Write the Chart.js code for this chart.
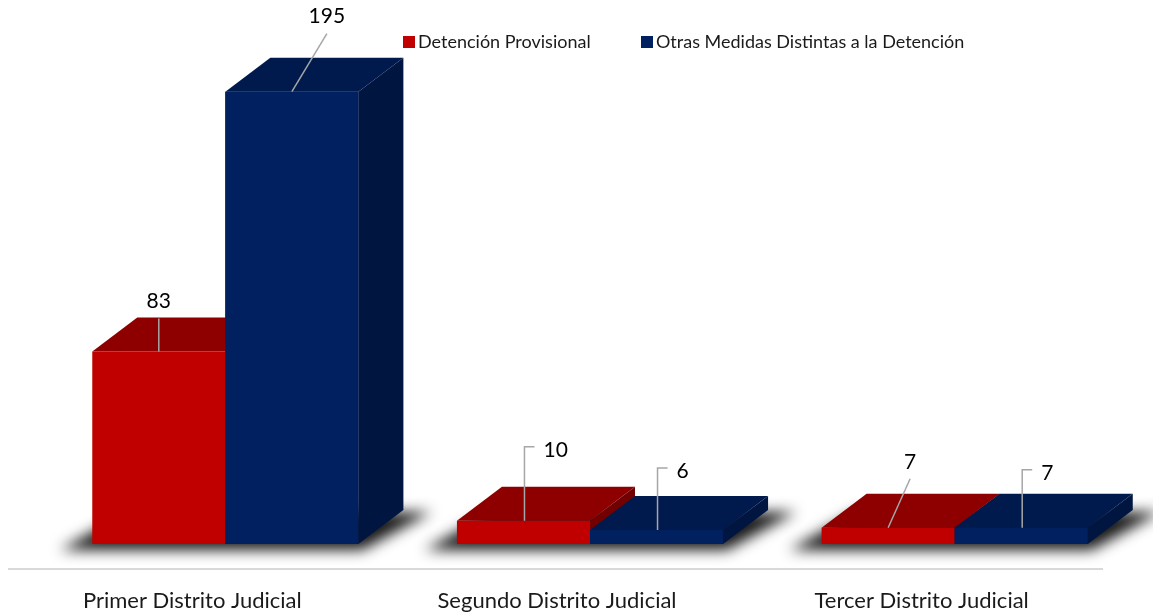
<!DOCTYPE html>
<html>
<head>
<meta charset="utf-8">
<script src="https://cdn.jsdelivr.net/npm/chart.js@4"></script>
<style>
  html, body { margin: 0; padding: 0; background: #ffffff; }
  #wrap { width: 1153px; height: 615px; position: relative; }
</style>
</head>
<body>
<div id="wrap"><canvas id="c" width="1153" height="615"></canvas></div>
<script>
// ---- data ----
const categories = ['Primer Distrito Judicial', 'Segundo Distrito Judicial', 'Tercer Distrito Judicial'];
const seriesNames = ['Detención Provisional', 'Otras Medidas Distintas a la Detención'];
const detencionProvisional = [83, 10, 7];
const otrasMedidas = [195, 6, 7];

// ---- styles ----
const FONT = 'Lato, "Open Sans", sans-serif';
const faceColors = [
  { front: '#C00000', top: '#8E0000', side: '#720000' },
  { front: '#002060', top: '#001A4E', side: '#001641' }
];
const DEPTH_X = 45, DEPTH_Y = 34;
// label placement: [dx, dy, kind] relative to bar front-top centre
const labelPlacement = [
  [[0, -50, 'line'], [0, -71, 'elbow'], [22, -66, 'line']],
  [[35, -75, 'line'], [0, -59, 'elbow'], [0, -55, 'elbow']]
];

function drawFaces(ctx, el, col) {
  const l = el.x - el.width / 2, r = el.x + el.width / 2, t = el.y, b = el.base;
  ctx.fillStyle = col.top;
  ctx.beginPath();
  ctx.moveTo(l, t); ctx.lineTo(r, t); ctx.lineTo(r + DEPTH_X, t - DEPTH_Y); ctx.lineTo(l + DEPTH_X, t - DEPTH_Y);
  ctx.closePath(); ctx.fill();
  ctx.fillStyle = col.side;
  ctx.beginPath();
  ctx.moveTo(r, t); ctx.lineTo(r + DEPTH_X, t - DEPTH_Y); ctx.lineTo(r + DEPTH_X, b - DEPTH_Y); ctx.lineTo(r, b);
  ctx.closePath(); ctx.fill();
}

const bars3d = {
  id: 'bars3d',
  beforeDatasetsDraw(chart) {
    const ctx = chart.ctx;
    const m0 = chart.getDatasetMeta(0).data, m1 = chart.getDatasetMeta(1).data;
    const ca = chart.chartArea;
    // floor line
    ctx.save();
    ctx.strokeStyle = '#D9D9D9';
    ctx.lineWidth = 2;
    ctx.beginPath();
    const fy = m0[0].base + 25;
    ctx.moveTo(ca.left - 35, fy); ctx.lineTo(ca.right - 34, fy);
    ctx.stroke();
    ctx.restore();
    // soft shadows (shape drawn off-canvas, only its shadow lands on the chart)
    ctx.save();
    const OFF = 5000;
    ctx.shadowColor = 'rgba(0,0,0,0.9)';
    ctx.shadowBlur = 14;
    ctx.shadowOffsetX = OFF;
    ctx.shadowOffsetY = 0;
    ctx.fillStyle = '#000';
    for (let i = 0; i < m0.length; i++) {
      const l = m0[i].x - m0[i].width / 2 - OFF, r = m1[i].x + m1[i].width / 2 - OFF, b = m0[i].base;
      ctx.beginPath();
      ctx.moveTo(l - 32, b + 6);
      ctx.lineTo(r + 4, b + 6);
      ctx.lineTo(r + DEPTH_X + 28, b - DEPTH_Y + 2);
      ctx.lineTo(l + DEPTH_X - 10, b - DEPTH_Y + 2);
      ctx.closePath();
      ctx.fill();
    }
    ctx.restore();
  },
  afterDatasetsDraw(chart) {
    const ctx = chart.ctx;
    const m0 = chart.getDatasetMeta(0).data, m1 = chart.getDatasetMeta(1).data;
    // 3D faces, painted back-to-front; the right bar's front is repainted by its element
    ctx.save();
    for (let i = 0; i < m0.length; i++) {
      drawFaces(ctx, m0[i], faceColors[0]);
      m1[i].draw(ctx);
      drawFaces(ctx, m1[i], faceColors[1]);
    }
    ctx.restore();

    ctx.save();
    ctx.strokeStyle = '#A6A6A6';
    ctx.lineWidth = 1.5;
    ctx.fillStyle = '#000000';
    ctx.font = '21px ' + FONT;
    ctx.textBaseline = 'middle';
    chart.data.datasets.forEach((ds, di) => {
      chart.getDatasetMeta(di).data.forEach((el, i) => {
        const [dx, dy, kind] = labelPlacement[di][i];
        const ax = el.x, ay = el.y;
        const text = String(ds.data[i]);
        if (kind === 'line') {
          const lx = ax + dx, ly = ay + dy;
          ctx.beginPath();
          ctx.moveTo(ax, ay); ctx.lineTo(lx, ly + 17);
          ctx.stroke();
          ctx.textAlign = 'center';
          ctx.fillText(text, lx, ly);
        } else {
          const ly = ay + dy;
          ctx.beginPath();
          ctx.moveTo(ax + 1, ay); ctx.lineTo(ax + 1, ly - 3); ctx.lineTo(ax + 11, ly - 3);
          ctx.stroke();
          ctx.textAlign = 'left';
          ctx.fillText(text, ax + 20, ly);
        }
      });
    });
    // legend
    ctx.font = '18px ' + FONT;
    ctx.textAlign = 'left';
    ctx.textBaseline = 'middle';
    const legendStarts = [403, 641];
    seriesNames.forEach((name, k) => {
      const x = legendStarts[k];
      ctx.fillStyle = faceColors[k].front;
      ctx.fillRect(x, 36, 12, 12);
      ctx.fillStyle = '#1A1A1A';
      ctx.fillText(name, x + 15, 42);
    });
    ctx.restore();
  }
};

new Chart(document.getElementById('c'), {
  type: 'bar',
  data: {
    labels: categories,
    datasets: [
      { label: seriesNames[0], data: detencionProvisional, backgroundColor: faceColors[0].front, borderWidth: 0 },
      { label: seriesNames[1], data: otrasMedidas, backgroundColor: faceColors[1].front, borderWidth: 0 }
    ]
  },
  options: {
    responsive: false,
    devicePixelRatio: 1,
    animation: false,
    layout: { padding: { left: 43, right: 16, top: 0, bottom: 0 } },
    plugins: { legend: { display: false }, tooltip: { enabled: false } },
    datasets: { bar: { categoryPercentage: 0.7298, barPercentage: 1 } },
    scales: {
      x: {
        grid: { display: false },
        border: { display: false },
        afterFit: (scale) => { scale.height = 71; },
        ticks: { padding: 36, labelOffset: -33, maxRotation: 0, color: '#1A1A1A', font: { family: FONT, size: 22 } }
      },
      y: { display: false, min: 0, max: 234.5 }
    }
  },
  plugins: [bars3d]
});
</script>
</body>
</html>
